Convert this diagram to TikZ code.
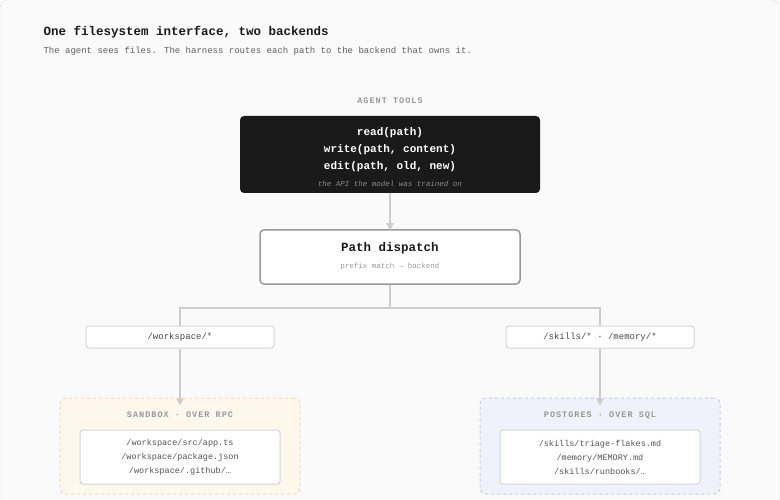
\documentclass[tikz,border=0pt]{standalone}
\usepackage{fontspec}
\setmainfont{Liberation Mono}
\usetikzlibrary{arrows.meta}
\definecolor{bg}{HTML}{FAFAFA}
\definecolor{ink}{HTML}{1A1A1A}
\definecolor{mute}{HTML}{999999}
\definecolor{conn}{HTML}{CCCCCC}
\definecolor{sbfill}{HTML}{FEF7EC}
\definecolor{sbline}{HTML}{EED9B8}
\definecolor{pgfillc}{HTML}{EFF2FA}
\definecolor{pgline}{HTML}{C6CDE0}
\tikzset{
  conn/.style={draw=conn,line width=1.2pt},
  arr/.style={conn,-{Triangle[width=7pt,length=7pt]}},
  captxt/.style={font=\fontsize{8.5}{10}\selectfont\bfseries\addfontfeature{LetterSpace=12},text=mute},
  lbl/.style={draw=conn!80,fill=white,rounded corners=3pt,line width=1pt,minimum width=188pt,minimum height=22pt,font=\fontsize{9}{10}\selectfont,text=ink!80},
  inner/.style={draw=conn!80,fill=white,rounded corners=3pt,line width=1pt,minimum width=200pt,minimum height=54pt,align=center,font=\fontsize{8.5}{14}\selectfont,text=ink!75},
}
\begin{document}
\begin{tikzpicture}[x=1pt,y=-1pt]
\useasboundingbox (0,0) rectangle (780,500);
\draw[fill=bg,draw=conn!60,rounded corners=8pt] (0,0) rectangle (780,508);
\node[anchor=west,font=\fontsize{12.5}{14}\selectfont\bfseries,text=ink] (title) at (40,32) {One filesystem interface, two backends};
\node[anchor=west,font=\fontsize{9}{11}\selectfont,text=ink!70] (sub) at (40,51) {The agent sees files. The harness routes each path to the backend that owns it.};
\node[captxt] (agcap) at (390,101) {AGENT TOOLS};
\node[fill=ink,rounded corners=4pt,minimum width=300pt,minimum height=77pt] (tools) at (390,154.5) {};
\node[text=white,font=\fontsize{11}{17}\selectfont\bfseries,align=center] (tooltxt) at (390,150) {read(path)\\write(path, content)\\edit(path, old, new)};
\node[text=mute!90!black,font=\fontsize{7.5}{9}\selectfont\itshape] (toolnote) at (390,184) {the API the model was trained on};
\node[draw=mute,line width=1.5pt,fill=white,rounded corners=4pt,minimum width=260pt,minimum height=54pt] (disp) at (390,257) {};
\node[font=\fontsize{12.5}{14}\selectfont\bfseries,text=ink] (disptxt) at (390,248) {Path dispatch};
\node[font=\fontsize{7.5}{9}\selectfont,text=mute] (dispsub) at (390,267) {prefix match → backend};
\draw[arr] (tools.south) -- ([yshift=-1pt]disp.north);
\node[lbl] (lw) at (180,337) {/workspace/*};
\node[lbl] (lp) at (600,337) {/skills/* · /memory/*};
\coordinate (split) at (390,308);
\draw[conn] (disp.south) -- (split);
\draw[conn] (lw.north) |- (split) -| (lp.north);
\node[draw=sbline,dashed,fill=sbfill,rounded corners=6pt,line width=1pt,minimum width=240pt,minimum height=96pt] (sb) at (180,446) {};
\node[draw=pgline,dashed,fill=pgfillc,rounded corners=6pt,line width=1pt,minimum width=240pt,minimum height=96pt] (pg) at (600,446) {};
\draw[arr] (lw.south) -- ([yshift=-8pt]sb.north);
\draw[arr] (lp.south) -- ([yshift=-8pt]pg.north);
\node[captxt] (sbcap) at (180,415) {SANDBOX · OVER RPC};
\node[captxt] (pgcap) at (600,415) {POSTGRES · OVER SQL};
\node[inner] (sbin) at (180,457) {/workspace/src/app.ts\\/workspace/package.json\\/workspace/.github/…};
\node[inner] (pgin) at (600,457) {/skills/triage-flakes.md\\/memory/MEMORY.md\\/skills/runbooks/…};
\end{tikzpicture}
\end{document}
